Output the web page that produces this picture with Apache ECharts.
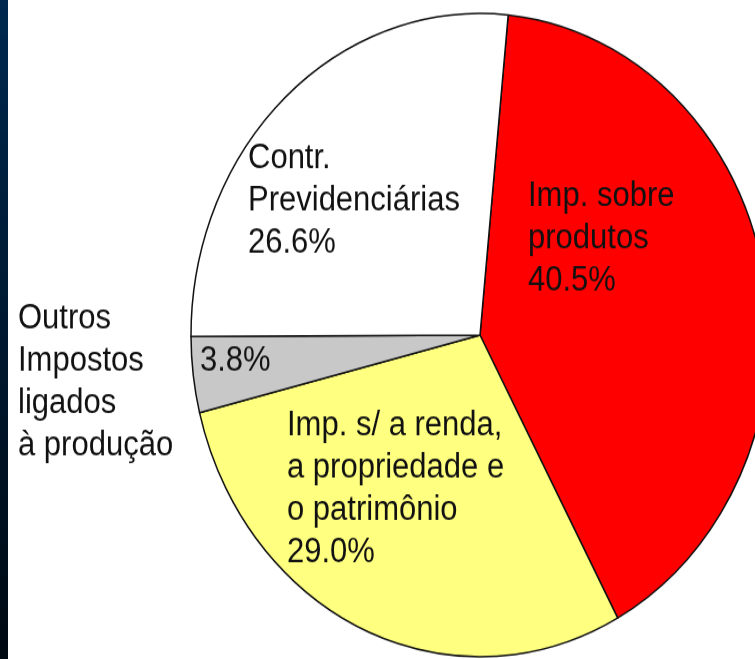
<!DOCTYPE html>
<html>
<head>
<meta charset="utf-8">
<script src="https://cdn.jsdelivr.net/npm/echarts@6/dist/echarts.min.js"></script>
<style>
  html, body { margin: 0; padding: 0; background: #fff; overflow: hidden; }
  /* the slide picture is stretched vertically, so the pie is an ellipse */
  #main { position: absolute; left: 0; top: 0; width: 755px; height: 592px;
          transform: scaleY(1.1132); transform-origin: 0 0; }
</style>
</head>
<body>
<div id="main"></div>
<script>
// fatias, em ordem horaria a partir do topo
var categorias = ['Imp. sobre\nprodutos', 'Imp. s/ a renda,\na propriedade e\no patrimônio',
                  'Outros\nImpostos\nligados\nà produção', 'Contr.\nPrevidenciárias'];
var valores = [40.5, 29.0, 3.8, 26.6];
var cores = ['#ff0000', '#ffff80', '#c8c8c8', '#ffffff'];
var nomeDentro = [true, true, false, true];   // o rotulo de "Outros" fica fora da pizza

// posicao (x, topo) de cada rotulo, em px do grafico
var posRotulo = [[528, 157], [287, 363], [200, 305], [248, 123]];

var myChart = echarts.init(document.getElementById('main'));
var dados = [];
for (var i = 0; i < valores.length; i++) {
    dados.push({ name: categorias[i], value: valores[i], itemStyle: { color: cores[i] } });
}

option = {
    animation: false,
    backgroundColor: '#fff',
    graphic: [
        {
            type: 'rect',
            shape: { x: 0, y: 0, width: 8, height: 592 },
            style: {
                fill: new echarts.graphic.LinearGradient(0, 0, 0, 1, [
                    { offset: 0, color: '#00294f' },
                    { offset: 1, color: '#000912' }
                ])
            }
        },
        {
            type: 'text',
            left: 18,
            top: 267,
            style: {
                text: categorias[2],
                font: '31px "Liberation Sans", Arial, sans-serif',
                lineHeight: 38,
                fill: '#111'
            }
        }
    ],
    series: [{
        type: 'pie',
        center: [480, 301],
        radius: 289,
        startAngle: 84.4,
        clockwise: true,
        silent: true,
        itemStyle: { borderColor: '#111', borderWidth: 1.5 },
        label: {
            show: true,
            position: 'inside',
            color: '#111',
            fontSize: 31,
            fontFamily: '"Liberation Sans", Arial, sans-serif',
            lineHeight: 38,
            align: 'left',
            formatter: function (p) {
                var pct = p.value.toFixed(1) + '%';
                return nomeDentro[p.dataIndex] ? p.name + '\n' + pct : pct;
            }
        },
        labelLine: { show: false },
        labelLayout: function (params) {
            var p = posRotulo[params.dataIndex];
            return { x: p[0], y: p[1], align: 'left', verticalAlign: 'top' };
        },
        data: dados
    }]
};
myChart.setOption(option);
</script>
</body>
</html>
